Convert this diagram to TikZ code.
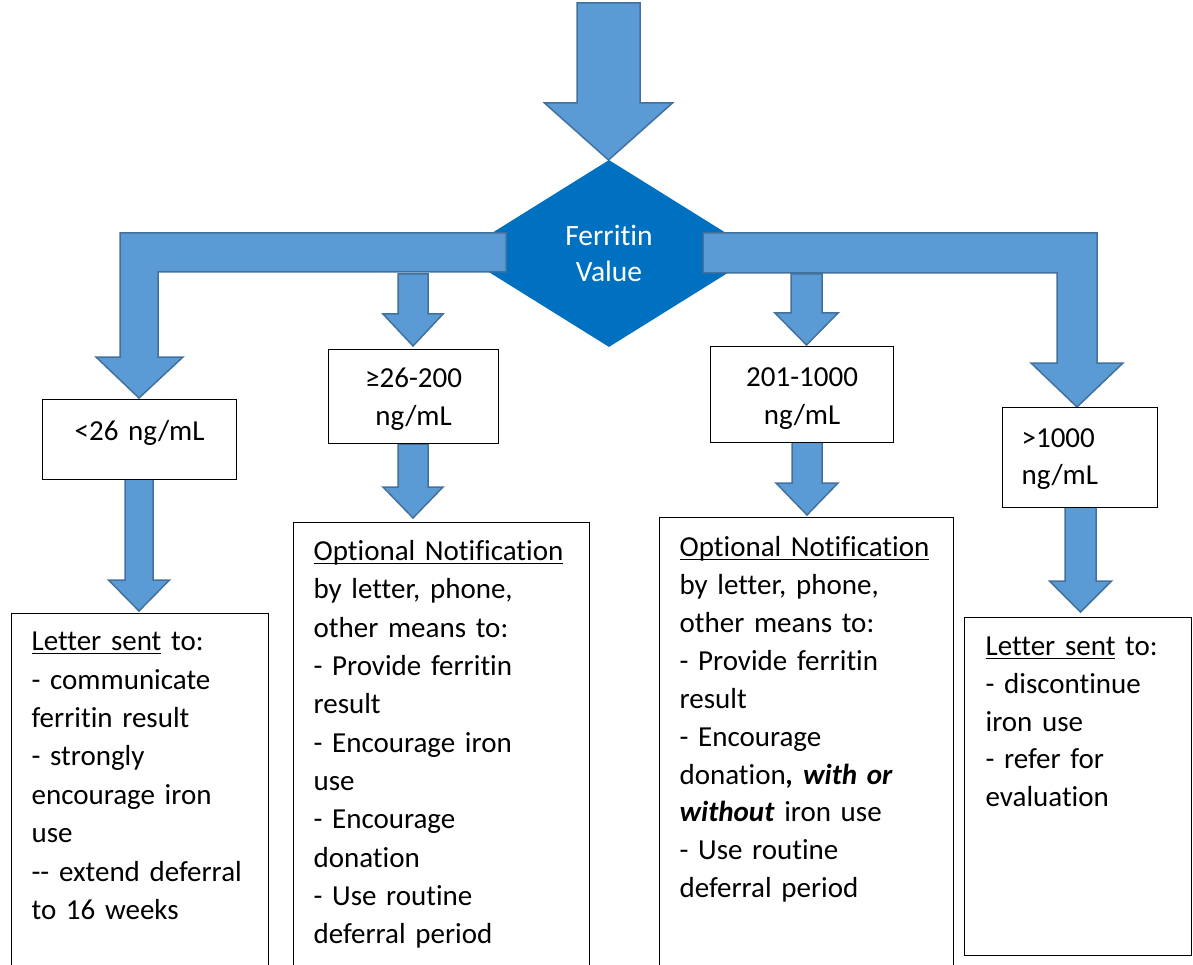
\documentclass[tikz,border=0pt]{standalone}
\usepackage{fontspec}
\setmainfont{Carlito}[Ligatures=NoCommon]
\usetikzlibrary{shapes.geometric}
\definecolor{arrowfill}{HTML}{5B9BD5}
\definecolor{arrowline}{HTML}{41719C}
\definecolor{diafill}{HTML}{0070C0}
\newsavebox\ulinebox
\newcommand\ulin[1]{\sbox\ulinebox{#1}\rlap{\rule[-3.5pt]{\wd\ulinebox}{1.5pt}}\usebox\ulinebox}
% x centre, y top, y of head base, y tip, half shaft width, half head width
\newcommand\dnarrow[6]{%
  \draw[blockarrow] (#1-#5,#2) -- (#1+#5,#2) -- (#1+#5,#3) -- (#1+#6,#3) -- (#1,#4) -- (#1-#6,#3) -- (#1-#5,#3) -- cycle;}
\tikzset{
  blockarrow/.style={fill=arrowfill, draw=arrowline, line width=1.5pt, line join=miter},
  valbox/.style={draw=black, line width=1.2pt, fill=white, inner xsep=0pt, inner ysep=0pt,
    align=center, font=\fontsize{29}{38}\selectfont, anchor=north west},
  notebox/.style={draw=black, line width=1.2pt, fill=white, inner xsep=20pt, inner ysep=0pt,
    align=left, anchor=north west},
}
\begin{document}
\begin{tikzpicture}[x=1pt,y=-1pt]
\useasboundingbox (0,0) rectangle (1193,965);
% top arrow
\dnarrow{608.5}{3}{103}{160}{31.5}{64}
% decision
\node[diamond, fill=diafill, draw=none, minimum width=300pt, minimum height=187pt, inner sep=0pt,
  text=white, align=center, font=\fontsize{29.5}{36}\selectfont] (fv) at (609,253.5) {Ferritin\\Value};
% bent arrows
\draw[blockarrow] (506,233) -- (120,233) -- (120,357) -- (96,357) -- (139,398) -- (183,357)
  -- (158,357) -- (158,272) -- (506,272) -- cycle;
\draw[blockarrow] (703,233) -- (1097,233) -- (1097,363) -- (1123,363) -- (1077,407) -- (1031,363)
  -- (1057,363) -- (1057,273) -- (703,273) -- cycle;
% small arrows
\dnarrow{413}{274}{314}{346}{15}{30}
\dnarrow{806.5}{274}{313}{345}{15.5}{31.5}
\dnarrow{139}{479}{580}{611}{14}{30.5}
\dnarrow{413}{444}{487}{518}{15}{30}
\dnarrow{807}{442}{483}{515}{15}{31}
\dnarrow{1080.5}{507}{581}{612}{15.5}{31}
% value boxes
\node[valbox, text width=194pt, text height=41pt, text depth=39pt] (lt) at (42,399) {<26 ng/mL};
\node[valbox, text width=170pt, text height=38pt, text depth=56pt] (mida) at (328,349) {≥26-200\\ng/mL};
\node[valbox, text width=183pt, text height=40pt, text depth=56pt] (midb) at (710,346) {201-1000\\ng/mL};
\node[valbox, align=left, inner xsep=19pt, text width=117pt, text height=40pt, text depth=60pt,
  font=\fontsize{29}{37}\selectfont] (gt) at (1002,407) {>1000\\ng/mL};
% action boxes
\node[notebox, text width=217pt, text height=37pt, text depth=325pt, font=\fontsize{29}{38.4}\selectfont] (acta) at (11,613)
  {\ulin{Letter sent} to:\\- communicate\\ferritin result\\- strongly\\encourage iron\\use\\\mbox{\mbox{-}\mbox{-} extend deferral}\\to 16 weeks};
\node[notebox, text width=256pt, text height=38pt, text depth=415pt, font=\fontsize{29}{38.3}\selectfont] (actb) at (293,522)
  {\ulin{Optional Notification}\\by letter, phone,\\other means to:\\- Provide ferritin\\result\\- Encourage iron\\use\\- Encourage\\donation\\- Use routine\\deferral period};
\node[notebox, text width=254pt, text height=39pt, text depth=419pt, font=\fontsize{29}{37.9}\selectfont] (actc) at (659,517)
  {\ulin{Optional Notification}\\by letter, phone,\\other means to:\\- Provide ferritin\\result\\- Encourage\\\mbox{donation\textbf{\textit{, with or}}}\\\mbox{\textbf{\textit{without}} iron use}\\- Use routine\\deferral period};
\node[notebox, inner xsep=21pt, text width=185pt, text height=38pt, text depth=300pt, font=\fontsize{29}{37.75}\selectfont] (actd) at (964,617)
  {\ulin{Letter sent} to:\\- discontinue\\iron use\\- refer for\\evaluation};
\end{tikzpicture}
\end{document}
